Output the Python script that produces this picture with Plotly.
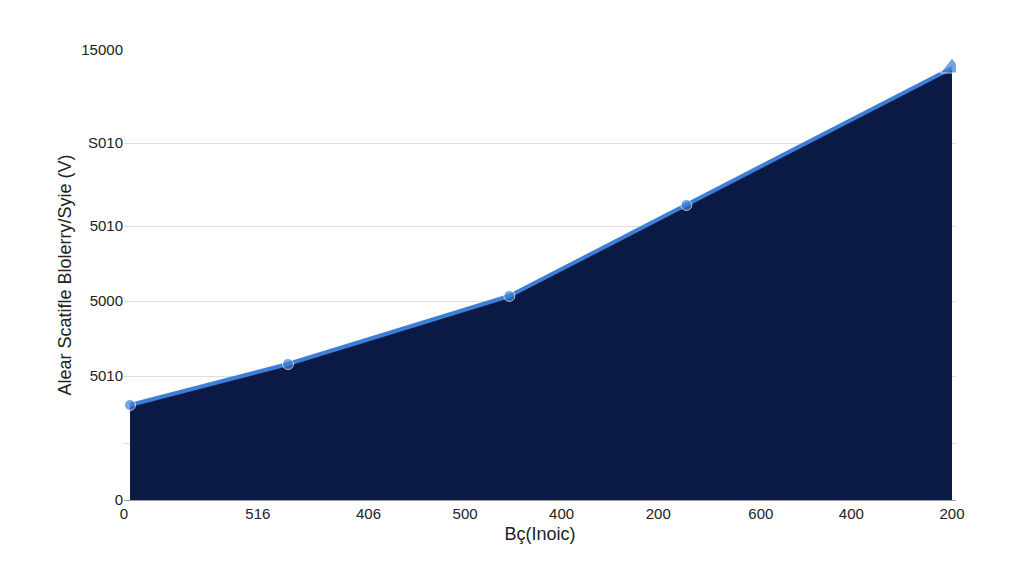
import plotly.graph_objects as go

x_vals = [6, 163, 383, 559, 823]
y_vals = [3167, 4533, 6800, 9833, 14400]
x_tickvals = [0, 133, 243, 339, 435, 531, 633, 723, 823]
x_ticktext = ["0", "516", "406", "500", "400", "200", "600", "400", "200"]
y_tickvals = [0, 1900, 4133, 6633, 9133, 11900, 15000]
y_ticktext = ["0", "", "5010", "5000", "5010", "S010", "15000"]

fig = go.Figure()
fig.add_trace(go.Scatter(
    x=x_vals, y=y_vals, mode="lines+markers", fill="tozeroy",
    fillcolor="#0b1a45", line=dict(color="#3d7fd6", width=4),
    marker=dict(size=[11, 11, 11, 11, 20], color="#3d7fd6",
                symbol=["circle"] * 4 + ["triangle-up"]),
))
fig.update_layout(
    width=1024, height=576, paper_bgcolor="white", plot_bgcolor="white",
    showlegend=False, margin=dict(l=116, r=76, t=42, b=84),
    font=dict(family="Liberation Sans", size=15, color="#222"),
    xaxis=dict(range=[0, 827], tickvals=x_tickvals, ticktext=x_ticktext,
               showgrid=False, zeroline=False, showline=True, linecolor="#999",
               title=dict(text="Bç(Inoic)", standoff=6), ticks=""),
    yaxis=dict(range=[0, 15000], tickvals=y_tickvals, ticktext=y_ticktext,
               gridcolor="#dddddd", zeroline=False, ticks="",
               title=dict(text="Alear Scatifle Blolerry/Syie (V)", standoff=4)),
)
fig.write_html("out.html")
